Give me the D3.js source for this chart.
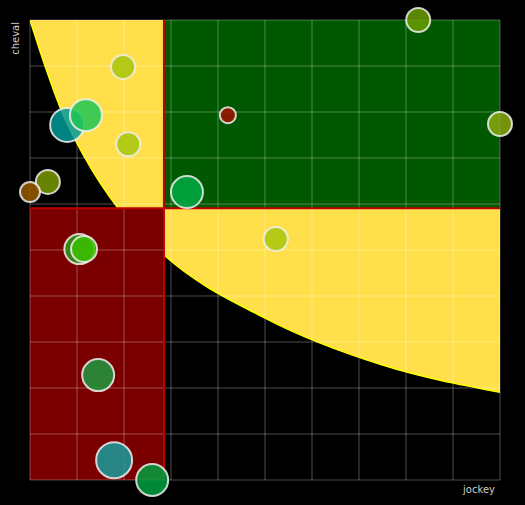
<!DOCTYPE html>
<html><head><meta charset="utf-8">
<script src="https://cdn.jsdelivr.net/npm/d3@7"></script>
<style>body{margin:0;background:#000}</style></head>
<body><script>
'use strict';
const w = 525, h = 505;
const m = {l: 30, r: 25, t: 20, b: 25};
const xThreshold = 2.85, yThreshold = 5.91;
// boundary of the yellow zone
const curveX = [0, 0.32, 0.68, 1.17, 1.87, 2.85, 5, 7.5, 10];
const curveY = [10, 9, 8, 7, 5.91, 4.89, 3.52, 2.5, 1.91];
const px = [1.98, 0.79, 1.19, 2.09, 0.38, 0, 3.34, 4.21, 8.26, 10, 5.23, 1.05, 1.15, 1.45, 1.79, 2.6];
const py = [8.98, 7.72, 7.93, 7.30, 6.48, 6.26, 6.26, 7.93, 10, 7.74, 5.24, 5.02, 5.02, 2.28, 0.43, 0];
const pr = [12, 17, 16, 12, 12, 10, 16, 8, 12, 12, 12, 15, 13, 16, 18, 16];
const pc = ['#a8c40e', '#009a9a', '#1ec455', '#a8c40e', '#7a9a00', '#9a5a00', '#00aa44', '#a01200', '#6a9e00', '#8aaa10', '#a8c40e', '#2a9a1a', '#3cc000', '#1f9a40', '#1a9c9c', '#00a040'];

const x = d3.scaleLinear().domain([0, 10]).range([m.l, w - m.r]);
const y = d3.scaleLinear().domain([0, 10]).range([h - m.b, m.t]);
const svg = d3.select('body').append('svg').attr('width', w).attr('height', h);
svg.append('rect').attr('width', w).attr('height', h).attr('fill', '#000');

svg.append('clipPath').attr('id', 'clip').append('rect')
  .attr('x', x(0)).attr('y', y(10)).attr('width', x(10) - x(0)).attr('height', y(0) - y(10));

const zone = svg.append('g').attr('clip-path', 'url(#clip)');
const area = d3.area().curve(d3.curveMonotoneX)
  .x(d => x(curveX[d])).y0(y(10)).y1(d => y(curveY[d]));
zone.append('path').datum(d3.range(curveX.length)).attr('d', area).attr('fill', '#ffe04a');
zone.append('path').datum(d3.range(curveX.length))
  .attr('d', d3.line().curve(d3.curveMonotoneX).x(d => x(curveX[d])).y(d => y(curveY[d])))
  .attr('fill', 'none').attr('stroke', '#ffff00').attr('stroke-width', 1.5);
zone.append('rect').attr('x', x(xThreshold)).attr('y', y(10))
  .attr('width', x(10) - x(xThreshold)).attr('height', y(yThreshold) - y(10)).attr('fill', '#005800');
zone.append('rect').attr('x', x(0)).attr('y', y(yThreshold))
  .attr('width', x(xThreshold) - x(0)).attr('height', y(0) - y(yThreshold)).attr('fill', '#7a0000');

// grid
const ticks = d3.range(0, 11);
svg.append('g').selectAll('line').data(ticks).enter().append('line')
  .attr('x1', d => x(d)).attr('x2', d => x(d)).attr('y1', y(0)).attr('y2', y(10))
  .attr('stroke', '#fff').attr('stroke-opacity', 0.3);
svg.append('g').selectAll('line').data(ticks).enter().append('line')
  .attr('y1', d => y(d)).attr('y2', d => y(d)).attr('x1', x(0)).attr('x2', x(10))
  .attr('stroke', '#fff').attr('stroke-opacity', 0.3);

// threshold lines
svg.append('line').attr('x1', x(xThreshold)).attr('x2', x(xThreshold)).attr('y1', y(10)).attr('y2', y(0))
  .attr('stroke', '#c00000').attr('stroke-width', 2);
svg.append('line').attr('y1', y(yThreshold)).attr('y2', y(yThreshold)).attr('x1', x(0)).attr('x2', x(10))
  .attr('stroke', '#c00000').attr('stroke-width', 2);

svg.append('g').selectAll('circle').data(px).enter().append('circle')
  .attr('cx', (d, i) => x(d)).attr('cy', (d, i) => y(py[i])).attr('r', (d, i) => pr[i])
  .attr('fill', (d, i) => pc[i]).attr('fill-opacity', 0.85)
  .attr('stroke', '#eee').attr('stroke-width', 2).attr('stroke-opacity', 0.85);

svg.append('text').attr('x', 495).attr('y', 493).attr('text-anchor', 'end')
  .attr('fill', '#ccc').attr('font-family', 'DejaVu Sans, sans-serif').attr('font-size', 10).text('jockey');
svg.append('text').attr('transform', 'translate(19,22) rotate(-90)').attr('text-anchor', 'end')
  .attr('fill', '#ccc').attr('font-family', 'DejaVu Sans, sans-serif').attr('font-size', 10).text('cheval');
</script></body></html>
